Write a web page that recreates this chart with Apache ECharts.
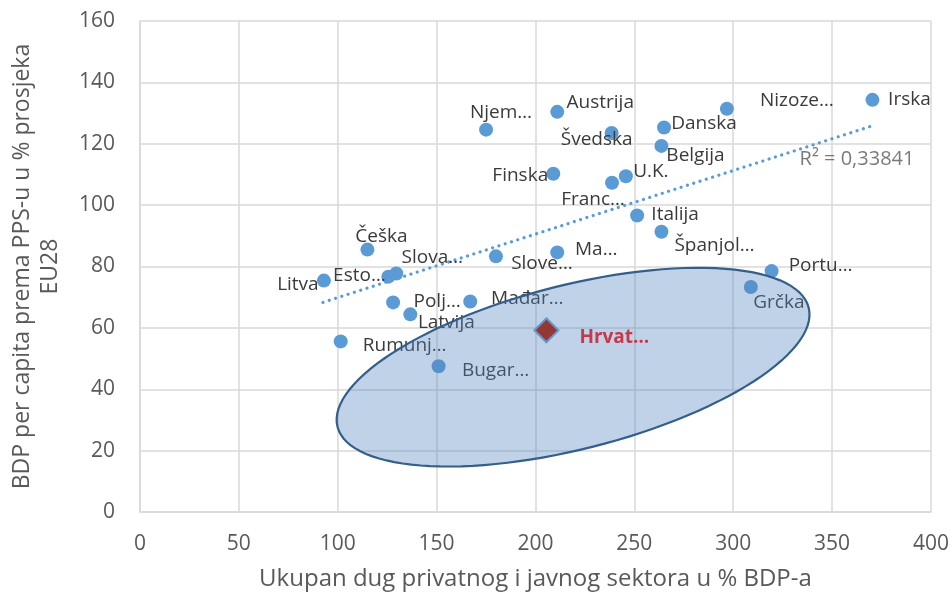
<!DOCTYPE html>
<html>
<head>
<meta charset="utf-8">
<script src="https://cdn.jsdelivr.net/npm/echarts@6/dist/echarts.min.js"></script>
<style>
	html, body { margin: 0; padding: 0; background: #fff; }
	#chart { width: 952px; height: 596px; }
</style>
</head>
<body>
<div id="chart"></div>
<script type="text/javascript">
	// zemlje i vrijednosti (x = dug u % BDP-a, y = BDP p.c. u % EU28)
	var countries = ['Litva', 'Esto…', 'Slova…', 'Češka', 'Polj…', 'Latvija', 'Rumunj…', 'Bugar…', 'Mađar…',
		'Slove…', 'Ma…', 'Njem…', 'Austrija', 'Finska', 'Švedska', 'Franc…', 'U.K.', 'Danska', 'Belgija',
		'Italija', 'Španjol…', 'Nizoze…', 'Irska', 'Portu…', 'Grčka'];
	var debt = [93, 125.6, 129.6, 115, 128, 136.7, 101.5, 151, 167, 180, 211, 175, 211, 209, 238.5, 238.7, 245.7,
		265, 263.7, 251.4, 263.7, 296.8, 370.4, 319.4, 308.9];
	var gdp = [75.4, 76.7, 77.7, 85.5, 68.3, 64.4, 55.6, 47.5, 68.6, 83.3, 84.6, 124.6, 130.4, 110.2, 123.5, 107.3,
		109.4, 125.3, 119.3, 96.6, 91.3, 131.4, 134.3, 78.5, 73.3];
	// pomak sredine natpisa od točke (px)
	var labelOffsets = [[-26, 4], [-29, -1], [36, -16], [14, -13], [44, -1], [36, 8], [64, 4], [57, 4], [57, -3],
		[46, 7], [39, -3], [15, -17], [43, -9], [-33, 2], [-15, 7], [-19, 17], [25, -5], [40, -4], [34, 10],
		[38, -1], [53, 14], [70, -8], [37, 0], [49, -6], [28, 16]];

	var croatia = {name: 'Hrvat…', x: 205.5, y: 59.2};
	var trendX = [92.5, 369.2];
	var trendY = [68.3, 125.6];
	var r2Text = 'R² = 0,33841';
	var r2Pos = [331, 115];
	// elipsa: središte u podacima, poluosi i kut u px
	var ellipseCenter = [219, 47.2];
	var ellipseA = 243, ellipseB = 82, ellipseAngle = 14.2;

	var xTicks = [0, 50, 100, 150, 200, 250, 300, 350, 400];
	var yTicks = [0, 20, 40, 60, 80, 100, 120, 140, 160];

	var font = "'Open Sans', 'Noto Sans', sans-serif";

	var points = [];
	for (var i = 0; i < countries.length; i++) {
		points.push({
			name: countries[i],
			value: [debt[i], gdp[i]],
			label: { offset: labelOffsets[i] }
		});
	}

	var chart = echarts.init(document.getElementById('chart'));
	var option = {
		animation: false,
		textStyle: { fontFamily: font },
		grid: { left: 137, right: 17, top: 21, bottom: 83 },
		xAxis: {
			type: 'value',
			min: xTicks[0],
			max: xTicks[xTicks.length - 1],
			interval: 50,
			name: 'Ukupan dug privatnog i javnog sektora u % BDP-a',
			nameLocation: 'middle',
			nameGap: 55,
			nameTextStyle: { fontSize: 24, color: '#595959', fontFamily: font },
			axisLine: { lineStyle: { color: '#d9d9d9', width: 1.5 } },
			axisTick: { show: false },
			axisLabel: { fontSize: 21, color: '#595959', margin: 22 },
			splitLine: { lineStyle: { color: '#d9d9d9', width: 1.5 } }
		},
		yAxis: {
			type: 'value',
			min: yTicks[0],
			max: yTicks[yTicks.length - 1],
			interval: 20,
			name: 'BDP per capita prema PPS-u u % prosjeka\nEU28',
			nameLocation: 'middle',
			nameRotate: 90,
			nameGap: 76,
			nameTextStyle: { fontSize: 23, color: '#595959', lineHeight: 28, fontFamily: font },
			axisLine: { show: true, lineStyle: { color: '#d9d9d9', width: 1.5 } },
			axisTick: { show: false },
			axisLabel: { fontSize: 21, color: '#595959', margin: 25 },
			splitLine: { lineStyle: { color: '#d9d9d9', width: 1.5 } }
		},
		series: [{
			// trend
			type: 'line',
			data: [[trendX[0], trendY[0]], [trendX[1], trendY[1]]],
			symbol: 'none',
			lineStyle: { color: '#5b9bd5', width: 3.2, type: [0.1, 6.5], cap: 'round' },
			z: 2
		}, {
			type: 'scatter',
			data: points,
			symbolSize: 14,
			itemStyle: { color: '#5b9bd5', opacity: 1 },
			label: {
				show: true,
				position: 'inside',
				formatter: '{b}',
				fontSize: 19,
				color: '#3a3a3a',
				fontFamily: font
			},
			z: 3
		}, {
			// R2
			type: 'scatter',
			data: [{ name: r2Text, value: r2Pos }],
			symbolSize: 0,
			label: { show: true, position: 'right', formatter: '{b}', fontSize: 20, color: '#595959', fontFamily: font },
			z: 3
		}, {
			// elipsa
			type: 'custom',
			data: [ellipseCenter],
			renderItem: function(params, api) {
				var c = api.coord([api.value(0), api.value(1)]);
				var t = -ellipseAngle * Math.PI / 180;
				var pts = [];
				for (var k = 0; k < 120; k++) {
					var a = k / 120 * Math.PI * 2;
					var ex = ellipseA * Math.cos(a), ey = ellipseB * Math.sin(a);
					pts.push([c[0] + ex * Math.cos(t) - ey * Math.sin(t), c[1] + ex * Math.sin(t) + ey * Math.cos(t)]);
				}
				return {
					type: 'polygon',
					shape: { points: pts },
					style: { fill: 'rgba(79,129,189,0.36)', stroke: '#345f8a', lineWidth: 2.2 }
				};
			},
			silent: true,
			z: 5
		}, {
			type: 'scatter',
			data: [{ name: croatia.name, value: [croatia.x, croatia.y] }],
			symbol: 'diamond',
			symbolSize: 24,
			itemStyle: { color: '#953735', borderColor: '#5b9bd5', borderWidth: 2, opacity: 1 },
			label: {
				show: true,
				position: 'inside',
				offset: [68, 7],
				formatter: '{b}',
				fontSize: 19,
				fontWeight: 'bold',
				color: '#c8374a',
				fontFamily: font
			},
			z: 6
		}]
	};
	chart.setOption(option);
	window.onresize = chart.resize;
</script>
</body>
</html>
